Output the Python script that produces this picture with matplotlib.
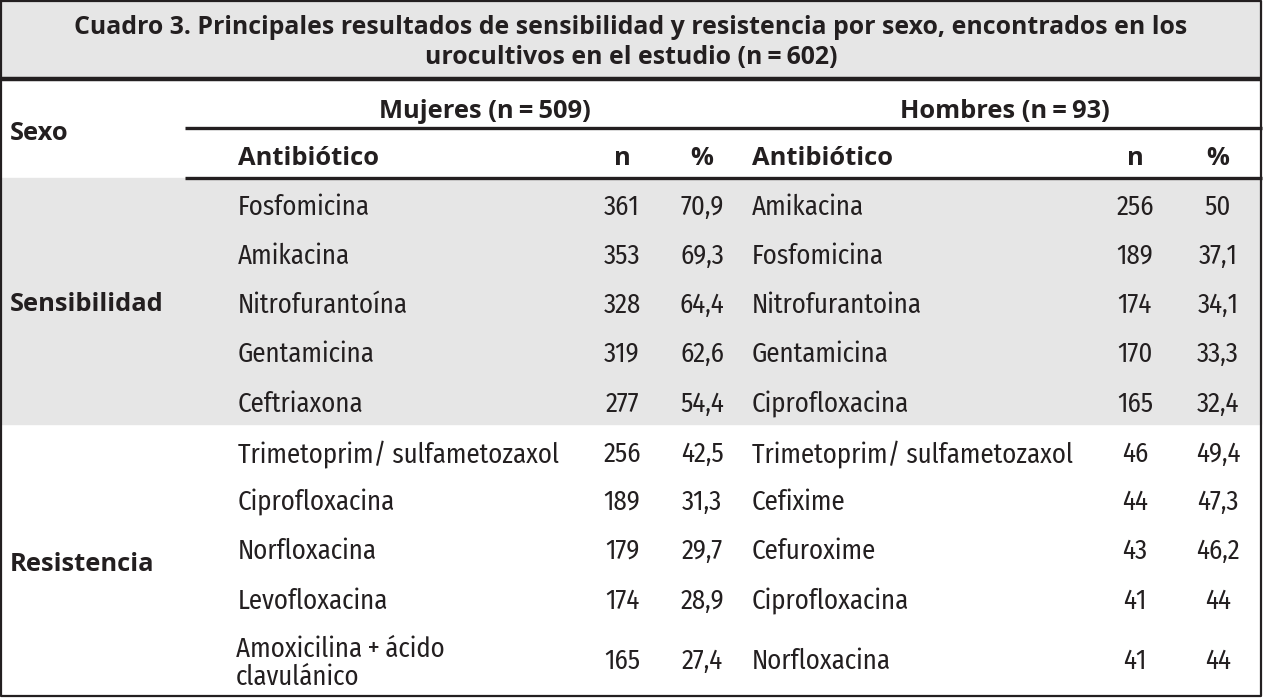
import matplotlib
matplotlib.use("Agg")
import matplotlib.pyplot as plt
from matplotlib import font_manager as fm
from matplotlib.patches import Rectangle

# ---------------- data ----------------
title_lines = ["Cuadro 3. Principales resultados de sensibilidad y resistencia por sexo, encontrados en los",
               "urocultivos en el estudio (n\u2009=\u2009602)"]
group_labels = ["Mujeres (n\u2009=\u2009509)", "Hombres (n\u2009=\u200993)"]
row_groups = ["Sensibilidad", "Resistencia"]
col_headers = ["Antibiótico", "n", "%"]

muj_sens_ab = ["Fosfomicina", "Amikacina", "Nitrofurantoína", "Gentamicina", "Ceftriaxona"]
muj_sens_n = ["361", "353", "328", "319", "277"]
muj_sens_pct = ["70,9", "69,3", "64,4", "62,6", "54,4"]
hom_sens_ab = ["Amikacina", "Fosfomicina", "Nitrofurantoina", "Gentamicina", "Ciprofloxacina"]
hom_sens_n = ["256", "189", "174", "170", "165"]
hom_sens_pct = ["50", "37,1", "34,1", "33,3", "32,4"]

muj_res_ab = ["Trimetoprim/ sulfametozaxol", "Ciprofloxacina", "Norfloxacina", "Levofloxacina",
              "Amoxicilina\u2009+\u2009ácido\nclavulánico"]
muj_res_n = ["256", "189", "179", "174", "165"]
muj_res_pct = ["42,5", "31,3", "29,7", "28,9", "27,4"]
hom_res_ab = ["Trimetoprim/ sulfametozaxol", "Cefixime", "Cefuroxime", "Ciprofloxacina", "Norfloxacina"]
hom_res_n = ["46", "44", "43", "41", "41"]
hom_res_pct = ["49,4", "47,3", "46,2", "44", "44"]

# ---------------- fonts ----------------
weights = {}
for f in fm.fontManager.ttflist:
    if f.style == "normal":
        w = f.weight if isinstance(f.weight, int) else fm.weight_dict.get(f.weight, 400)
        weights.setdefault(f.name, set()).add(w)

cands = ["Open Sans Condensed", "Fira Sans Condensed", "Roboto Condensed", "PT Sans Narrow",
         "Encode Sans Condensed", "IBM Plex Sans Condensed", "Asap Condensed", "Barlow Semi Condensed"]
body_fam, body_w = "Open Sans", 400
for c in cands:
    ws = weights.get(c, set())
    light = [w for w in ws if 250 <= w <= 400]
    if light:
        body_fam = c
        body_w = 400 if 400 in light else max(light)
        break
BODY = [body_fam, "DejaVu Sans"]
BOLD = ["Open Sans", "DejaVu Sans"]

TXT = "#231f20"
GREY = "#e6e6e6"
W, H = 1264, 698

fig = plt.figure(figsize=(W / 100, H / 100), dpi=100)
ax = fig.add_axes([0, 0, 1, 1])
ax.set_xlim(0, W)
ax.set_ylim(H, 0)
ax.axis("off")
renderer = fig.canvas.get_renderer()


def fit_size(sample, target_px, family, weight, base=18.0):
    t = ax.text(0, 0, sample, fontsize=base, family=family, fontweight=weight)
    w = t.get_window_extent(renderer).width
    t.remove()
    return base * target_px / w


fs_body = fit_size("Trimetoprim/ sulfametozaxol", 322, BODY, body_w)
fs_head = fit_size(group_labels[0], 212, BOLD, "bold")
fs_title = fit_size(title_lines[0], 1112, BOLD, "bold")

# backgrounds
ax.add_patch(Rectangle((0, 0), 1261, 79, color=GREY, zorder=0))
ax.add_patch(Rectangle((0, 178), 1261, 246, color=GREY, zorder=0))

# lines
ax.plot([0, 1262], [79, 79], color=TXT, lw=3.2, solid_capstyle="butt")
ax.plot([185, 1262], [128, 128], color=TXT, lw=2.4, solid_capstyle="butt")
ax.plot([185, 1262], [178, 178], color=TXT, lw=2.4, solid_capstyle="butt")
ax.plot([1, 1, 1261, 1261, 1], [1, 696, 696, 1, 1], color=TXT, lw=1.6)

hk = dict(family=BOLD, fontweight="bold", color=TXT, va="baseline")
# title
ax.text(631, 34, title_lines[0], ha="center", fontsize=fs_title, **hk)
ax.text(631, 64, title_lines[1], ha="center", fontsize=fs_title, **hk)

# header
ax.text(485, 118, group_labels[0], ha="center", fontsize=fs_head, **hk)
ax.text(1005, 118, group_labels[1], ha="center", fontsize=fs_head, **hk)
ax.text(10, 140, "Sexo", ha="left", fontsize=fs_head, **hk)

col_ab_m, col_n_m, col_p_m = 238, 622, 702
col_ab_h, col_n_h, col_p_h = 752, 1135, 1218
hb = 165
for x0, xn, xp in [(col_ab_m, col_n_m, col_p_m), (col_ab_h, col_n_h, col_p_h)]:
    ax.text(x0, hb, col_headers[0], ha="left", fontsize=fs_head, **hk)
    ax.text(xn, hb, col_headers[1], ha="center", fontsize=fs_head, **hk)
    ax.text(xp, hb, col_headers[2], ha="center", fontsize=fs_head, **hk)

# rows
row_base = [215, 264, 313, 362, 412, 462, 510, 559, 609, 669]
ab_m = muj_sens_ab + muj_res_ab
n_m = muj_sens_n + muj_res_n
p_m = muj_sens_pct + muj_res_pct
ab_h = hom_sens_ab + hom_res_ab
n_h = hom_sens_n + hom_res_n
p_h = hom_sens_pct + hom_res_pct
kw = dict(fontsize=fs_body, family=BODY, fontweight=body_w, color=TXT, va="baseline")
for i, y in enumerate(row_base):
    if "\n" in ab_m[i]:
        l1, l2 = ab_m[i].split("\n")
        ax.text(col_ab_m - 2, 657, l1, ha="left", **kw)
        ax.text(col_ab_m - 2, 685, l2, ha="left", **kw)
    else:
        ax.text(col_ab_m, y, ab_m[i], ha="left", **kw)
    ax.text(col_n_m, y, n_m[i], ha="center", **kw)
    ax.text(col_p_m, y, p_m[i], ha="center", **kw)
    ax.text(col_ab_h, y, ab_h[i], ha="left", **kw)
    ax.text(col_n_h, y, n_h[i], ha="center", **kw)
    ax.text(col_p_h, y, p_h[i], ha="center", **kw)

ax.text(10, 311, row_groups[0], ha="left", fontsize=fs_head, **hk)
ax.text(10, 571, row_groups[1], ha="left", fontsize=fs_head, **hk)

fig.savefig("out.png", dpi=100)
